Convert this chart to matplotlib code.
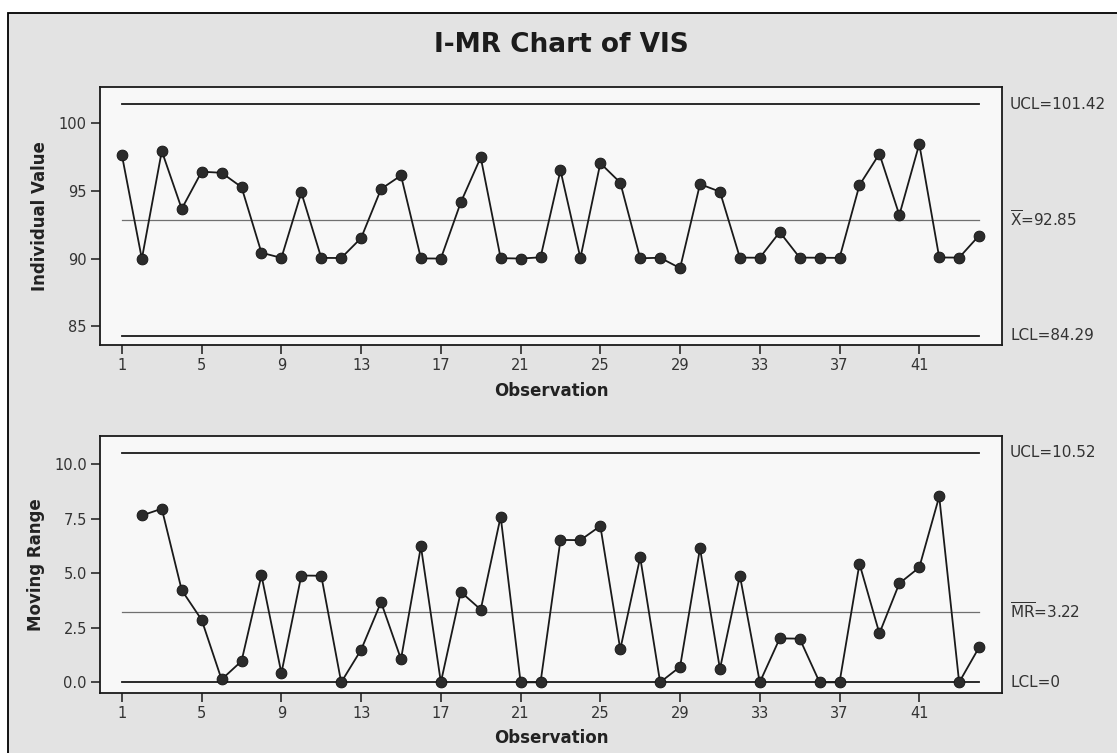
import numpy as np
import matplotlib
matplotlib.use("Agg")
import matplotlib.pyplot as plt
from matplotlib.patches import Rectangle
import matplotlib.transforms as mtransforms

plt.rcParams['font.family'] = ['DejaVu Sans']
plt.rcParams['mathtext.fontset'] = 'dejavusans'

# ---------------- data ----------------
individual_values = [97.65, 89.98, 97.96, 93.68, 96.43, 96.35, 95.29, 90.43, 90.05, 94.89,
                     90.05, 90.04, 91.52, 95.15, 96.15, 90.01, 90.00, 94.16, 97.49, 90.03,
                     90.00, 90.09, 96.53, 90.04, 97.06, 95.62, 90.02, 90.06, 89.29, 95.51,
                     94.95, 90.07, 90.06, 91.96, 90.07, 90.06, 90.05, 95.44, 97.75, 93.22,
                     98.48, 90.08, 90.07, 91.70]
moving_ranges = [7.64, 7.95, 4.22, 2.86, 0.13, 0.97, 4.90, 0.42, 4.89, 4.88,
                 0.00, 1.49, 3.67, 1.06, 6.22, 0.00, 4.14, 3.33, 7.59, 0.00,
                 0.00, 6.52, 6.51, 7.16, 1.51, 5.72, 0.00, 0.71, 6.14, 0.61,
                 4.89, 0.00, 2.01, 2.00, 0.00, 0.00, 5.43, 2.24, 4.53, 5.26,
                 8.51, 0.00, 1.60]
i_limits = {"UCL": 101.42, "CL": 92.85, "LCL": 84.29}
mr_limits = {"UCL": 10.52, "CL": 3.22, "LCL": 0.0}
i_limit_labels = ["UCL=101.42", r"$\overline{\mathrm{X}}$=92.85", "LCL=84.29"]
mr_limit_labels = ["UCL=10.52", r"$\overline{\mathrm{MR}}$=3.22", "LCL=0"]
x_ticks = [1, 5, 9, 13, 17, 21, 25, 29, 33, 37, 41]
i_yticks = [85, 90, 95, 100]
mr_yticks = [0.0, 2.5, 5.0, 7.5, 10.0]
mr_yticklabels = ["0.0", "2.5", "5.0", "7.5", "10.0"]
title = "I-MR Chart of VIS"

# ---------------- figure ----------------
W, H = 1117, 753
fig = plt.figure(figsize=(W / 100, H / 100), dpi=100, facecolor="white")

# background panel with frame
bg = Rectangle((8 / W, -0.05), 1.2, 1 - 13 / H + 0.05, transform=fig.transFigure,
               facecolor="#e3e3e3", edgecolor="black", linewidth=1.3, zorder=-10)
fig.patches.append(bg)


def px_axes(left, top, right, bottom):
    return fig.add_axes([left / W, 1 - bottom / H, (right - left) / W, (bottom - top) / H])


ax1 = px_axes(100, 87, 1002, 345)
ax2 = px_axes(100, 436, 1002, 693)

ink = "#1a1a1a"
marker_col = "#2b2b2b"


def draw_panel(ax, xs, ys, limits, labels, ylim, yticks, yticklabels, ylabel):
    ax.set_facecolor("#f8f8f8")
    n_last = len(individual_values)
    ax.plot([1, n_last], [limits["UCL"]] * 2, color=ink, lw=1.3, zorder=2)
    ax.plot([1, n_last], [limits["LCL"]] * 2, color=ink, lw=1.3, zorder=2)
    ax.plot([1, n_last], [limits["CL"]] * 2, color="#707070", lw=0.9, zorder=2)
    ax.plot(xs, ys, color=ink, lw=1.3, marker="o", markersize=7.8,
            markerfacecolor=marker_col, markeredgecolor="#111111", markeredgewidth=0.6, zorder=3)
    ax.set_xlim(-0.1, 45.15)
    ax.set_ylim(*ylim)
    ax.set_xticks(x_ticks)
    ax.set_xticklabels([str(t) for t in x_ticks])
    ax.set_yticks(yticks)
    ax.set_yticklabels(yticklabels)
    ax.tick_params(direction="out", length=6.5, width=1.1, color=ink,
                   labelsize=10.5, labelcolor="#333333", pad=3)
    for s in ax.spines.values():
        s.set_color(ink)
        s.set_linewidth(1.3)
    ax.set_xlabel("Observation", fontsize=12, fontweight="bold", color="#222222", labelpad=2)
    ax.xaxis.set_label_coords(0.5, -0.142)
    ax.set_ylabel(ylabel, fontsize=12, fontweight="bold", color="#222222", labelpad=8)
    trans = mtransforms.blended_transform_factory(ax.transAxes, ax.transData)
    for key, lab in zip(["UCL", "CL", "LCL"], labels):
        ax.text(1.009, limits[key], lab, transform=trans, fontsize=11, color="#333333",
                ha="left", va="center", clip_on=False)


obs_i = np.arange(1, len(individual_values) + 1)
obs_mr = np.arange(2, len(moving_ranges) + 2)

draw_panel(ax1, obs_i, individual_values, i_limits, i_limit_labels,
           (83.6, 102.7), i_yticks, [str(t) for t in i_yticks], "Individual Value")
draw_panel(ax2, obs_mr, moving_ranges, mr_limits, mr_limit_labels,
           (-0.49, 11.28), mr_yticks, mr_yticklabels, "Moving Range")

ax1.yaxis.set_label_coords(-0.057, 0.5)
ax2.yaxis.set_label_coords(-0.061, 0.5)

fig.text(561 / W, 1 - 45 / H, title, fontsize=19, fontweight="bold", color="#1c1c1c",
         ha="center", va="center")

fig.savefig("out.png", dpi=100, facecolor=fig.get_facecolor())
